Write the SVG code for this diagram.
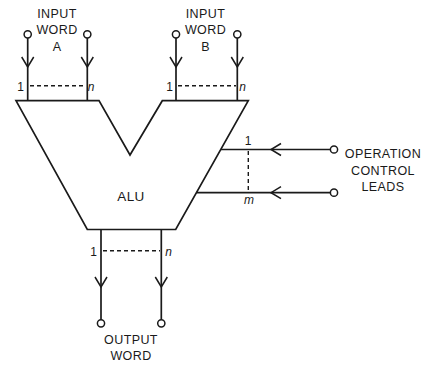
<svg xmlns="http://www.w3.org/2000/svg" width="424" height="366" viewBox="0 0 424 366">
<style>
.ln{stroke:#1a1a1a;stroke-width:1.7;fill:none}
.dash{stroke:#1a1a1a;stroke-width:1.4;fill:none;stroke-dasharray:4 3}
.ar{stroke:#1a1a1a;stroke-width:1.5;fill:none;stroke-linejoin:miter}
.term{stroke:#1a1a1a;stroke-width:1.5;fill:#fff}
.lbl{font-family:"Liberation Sans",Arial,sans-serif;font-size:12.5px;fill:#1a1a1a;text-anchor:middle;letter-spacing:0.4px}
.idx{font-family:"Liberation Sans",Arial,sans-serif;font-size:12px;fill:#1a1a1a;text-anchor:middle}
.it{font-style:italic}
</style>
<rect width="424" height="366" fill="#fff"/>
<g id="alu">
<path class="ln" d="M16,100.7 L99,100.7 L130,155 L162.3,100.7 L248.3,100.7 L175.7,229.5 L87.3,229.5 Z"/>
<text class="lbl" x="131" y="201" style="font-size:13.5px">ALU</text>
</g>
<g id="input-a">
<text class="lbl" x="57" y="18.3">INPUT</text>
<text class="lbl" x="57" y="34.3">WORD</text>
<text class="lbl" x="57" y="50.5">A</text>
</g>
<g id="input-b">
<text class="lbl" x="205.5" y="18.3">INPUT</text>
<text class="lbl" x="205.5" y="34.3">WORD</text>
<text class="lbl" x="205.5" y="50.5">B</text>
</g>
<g id="operation-control">
<text class="lbl" x="383" y="158">OPERATION</text>
<text class="lbl" x="383" y="175">CONTROL</text>
<text class="lbl" x="383" y="191">LEADS</text>
</g>
<g id="output-word">
<text class="lbl" x="131" y="344">OUTPUT</text>
<text class="lbl" x="131" y="359.5">WORD</text>
</g>
<g id="connectors">
<!-- input A -->
<line class="ln" x1="27.7" y1="38" x2="27.7" y2="100.7"/>
<line class="ln" x1="87.3" y1="38" x2="87.3" y2="100.7"/>
<polyline class="ar" points="21.7,57 27.7,67 33.7,57"/>
<polyline class="ar" points="81.3,57 87.3,67 93.3,57"/>
<circle class="term" cx="27.7" cy="34.3" r="3.6"/>
<circle class="term" cx="87.3" cy="34.3" r="3.6"/>
<line class="dash" x1="30" y1="85.7" x2="86" y2="85.7"/>
<text class="idx" x="20.5" y="90.5">1</text>
<text class="idx it" x="91" y="90.5">n</text>
<!-- input B -->
<line class="ln" x1="176" y1="38" x2="176" y2="100.7"/>
<line class="ln" x1="237.3" y1="38" x2="237.3" y2="100.7"/>
<polyline class="ar" points="170,57 176,67 182,57"/>
<polyline class="ar" points="231.3,57 237.3,67 243.3,57"/>
<circle class="term" cx="176" cy="34.3" r="3.6"/>
<circle class="term" cx="237.3" cy="34.3" r="3.6"/>
<line class="dash" x1="178" y1="85.7" x2="236" y2="85.7"/>
<text class="idx" x="169.5" y="90.5">1</text>
<text class="idx it" x="242.5" y="90.5">n</text>
<!-- control -->
<line class="ln" x1="221" y1="149.5" x2="330.5" y2="149.5"/>
<line class="ln" x1="196.5" y1="192.7" x2="330.5" y2="192.7"/>
<polyline class="ar" points="281,143.5 271,149.5 281,155.5"/>
<polyline class="ar" points="281,186.7 271,192.7 281,198.7"/>
<circle class="term" cx="334" cy="149.5" r="3.6"/>
<circle class="term" cx="334" cy="192.7" r="3.6"/>
<line class="dash" x1="248.3" y1="151" x2="248.3" y2="192"/>
<text class="idx" x="248" y="144.5">1</text>
<text class="idx it" x="249" y="204">m</text>
<!-- output -->
<line class="ln" x1="101" y1="229.5" x2="101" y2="319.7"/>
<line class="ln" x1="161.3" y1="229.5" x2="161.3" y2="319.7"/>
<polyline class="ar" points="95,277 101,287 107,277"/>
<polyline class="ar" points="155.3,277 161.3,287 167.3,277"/>
<circle class="term" cx="101" cy="323.3" r="3.6"/>
<circle class="term" cx="161.3" cy="323.3" r="3.6"/>
<line class="dash" x1="103" y1="250.7" x2="160" y2="250.7"/>
<text class="idx" x="93.5" y="255.5">1</text>
<text class="idx it" x="168.5" y="255.5">n</text>
</g>
</svg>
